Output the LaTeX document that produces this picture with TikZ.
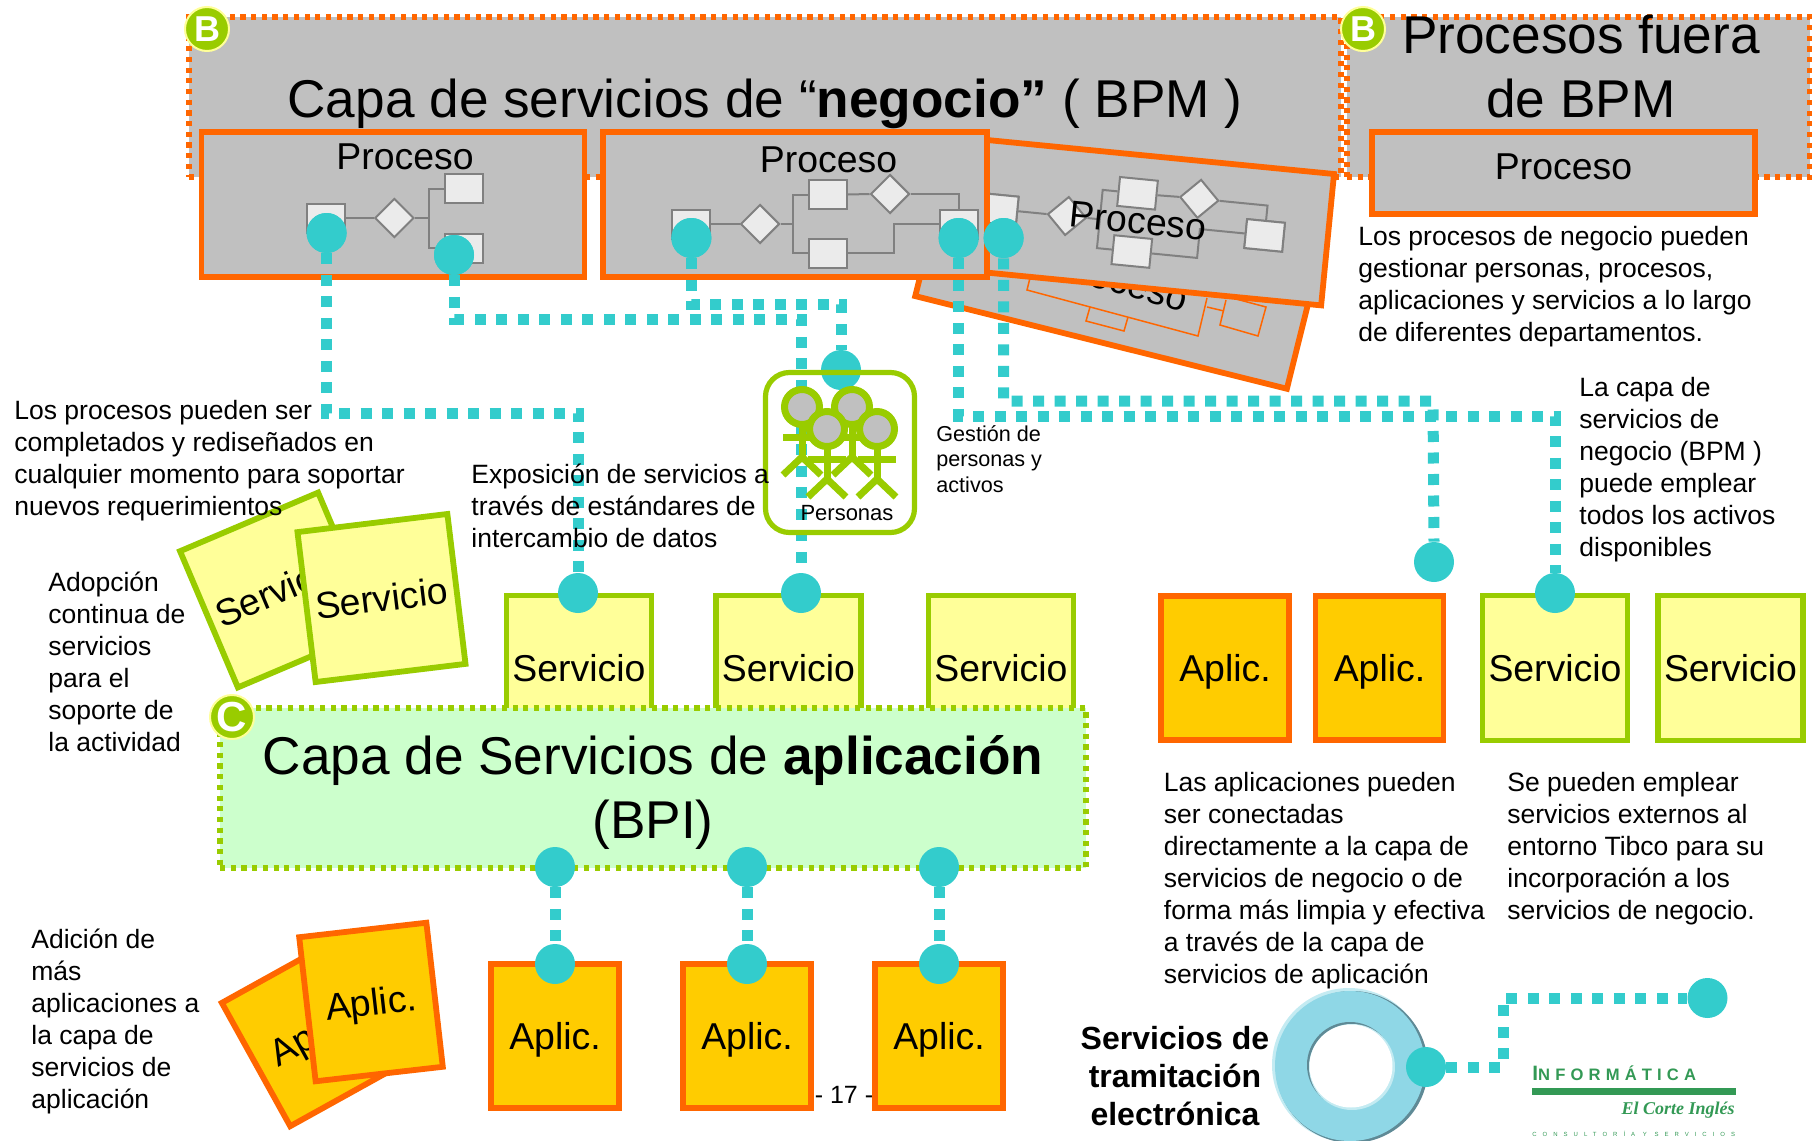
\documentclass[tikz,border=0pt]{standalone}
\usepackage{fontspec}
\setmainfont{Liberation Sans}
\newfontfamily\logofont[LetterSpace=31]{Liberation Sans}
\newfontfamily\logowide[LetterSpace=100]{Liberation Sans}
\newfontfamily\logoscript{Liberation Serif}
\usetikzlibrary{shapes.geometric}
\definecolor{tealport}{HTML}{33CCCC}
\definecolor{orangeline}{HTML}{FF6600}
\definecolor{greenline}{HTML}{99CC00}
\definecolor{panelgrey}{HTML}{C0C0C0}
\definecolor{servfill}{HTML}{FFFF99}
\definecolor{aplicfill}{HTML}{FFCC00}
\definecolor{mintfill}{HTML}{CCFFCC}
\definecolor{logogreen}{HTML}{339955}
\definecolor{ringblue}{HTML}{8FD7E6}
\definecolor{ringpale}{HTML}{C4EBF2}
\definecolor{ringdark}{HTML}{5F8A96}
\tikzset{
  panel/.style    = {rectangle, fill=panelgrey, draw=orangeline, line width=2.6pt,
                     dash pattern=on 2.6pt off 2.75pt, minimum height=80pt},
  bigtext/.style  = {align=center, inner sep=0pt, font=\fontsize{26.6}{32}\selectfont},
  boxtext/.style  = {inner sep=0pt, font=\fontsize{18.7}{22}\selectfont},
  procbox/.style  = {rectangle, draw=orangeline, fill=panelgrey, line width=2.9pt,
                     inner sep=0pt, font=\fontsize{18.7}{22}\selectfont},
  servbox/.style  = {procbox, draw=greenline, fill=servfill,
                     minimum width=72.5pt, minimum height=72.5pt},
  aplicbox/.style = {procbox, fill=aplicfill, text depth=0pt, minimum width=64pt, minimum height=72pt},
  flowbox/.style  = {rectangle, draw=gray, fill=black!8, line width=1pt, inner sep=0pt,
                     minimum width=19pt, minimum height=14.5pt},
  flowgate/.style = {diamond, aspect=1, draw=gray, fill=black!8, line width=1pt,
                     inner sep=0pt, minimum size=19.5pt},
  wire/.style     = {draw=gray, line width=1pt},
  thinwire/.style = {draw=orangeline, line width=.75pt},
  port/.style     = {circle, fill=tealport, inner sep=0pt, minimum size=20pt},
  link/.style     = {draw=tealport, line width=5.5pt, dash pattern=on 5.5pt off 5.25pt},
  badge/.style    = {circle, fill=greenline, draw=servfill, line width=1pt, inner sep=0pt,
                     minimum size=22pt, text=white, font=\fontsize{18}{18}\bfseries\selectfont},
  note/.style     = {align=left, anchor=west, inner sep=0pt,
                     font=\fontsize{13.25}{16}\selectfont},
  smallnote/.style = {note, font=\fontsize{10.8}{12.8}\selectfont},
  figure/.style   = {draw=greenline, line width=3.5pt},
  ring/.style     = {circle, inner sep=0pt},
  flowpic/.pic    = {
    \node [flowbox]  (-start) at (0,0) {};
    \node [flowgate] (-gatea) at (69,0) {};
    \node [flowbox]  (-up)    at (137,-29.5) {};
    \node [flowbox]  (-low)   at (137,29) {};
    \node [flowgate] (-gateb) at (199,-30) {};
    \node [flowbox]  (-end)   at (267.6,0) {};
    \coordinate (-joint) at (102,0);
    \coordinate (-back)  at (202.6,0);
    \draw [wire] (-start) -- (-gatea) -- (-joint);
    \draw [wire] (-up.west) -| (-joint) |- (-low.west);
    \draw [wire] (-up.east) -- (-gateb.west);
    \draw [wire] (-gateb.east) -| (-end.north);
    \draw [wire] (-low.east) -| (-back) -- (-end.west);
    \node [flowbox] at (-start) {};
    \node [flowbox] at (-end) {};
  }
}

\begin{document}
\begin{tikzpicture}[x=.5pt,y=-.5pt]
  \useasboundingbox (0,0) rectangle (1812,1141);

  % grey layer
  \node [panel, minimum width=576pt]   (negocio) at (765,97) {};
  \node [panel, minimum width=231.5pt] (fuera)   at (1578.5,97) {};
  \node [bigtext] (negociotext) at (765,104) {Capa de servicios de “\textbf{negocio”} ( BPM )};
  \node [bigtext] (fueratext)   at (1581,67) {Procesos fuera\\de BPM};

  % tilted process boxes
  \node [procbox, minimum width=191.5pt, minimum height=70pt, rotate=-14] (procback) at (1118,274.5) {};
  \node [boxtext, rotate=-16] (procbacktext) at (1121,281.5) {Proceso};
  \draw [thinwire] (1030,278) -- (1027,290) -- (1198,336) -- (1207,298);
  \draw [thinwire] (1090,307) -- (1086,321) -- (1124,331) -- (1128,317);
  \draw [thinwire] (1226,300) -- (1220,325) -- (1258,336) -- (1266,307) -- (1236,299);
  \draw [thinwire] (1207,307) -- (1224,311);
  \node [procbox, minimum width=191.5pt, minimum height=66pt, rotate=-5.6] (procfront) at (1137,221) {};
  \pic [rotate=-5.6, transform shape] (flowfront) at (998.3,209.3) {flowpic};
  \node [boxtext, rotate=-5.6] (procfronttext) at (1138,221) {Proceso};

  % process boxes
  \node [procbox, minimum width=191.5pt, minimum height=72.25pt] (procone) at (393,204.5) {};
  \node [boxtext] (proconetext) at (405,157) {Proceso};
  \node [flowbox]  (startone) at (326,218) {};
  \node [flowgate] (gateone)  at (394.4,218) {};
  \node [flowbox]  (upone)    at (463.5,188.5) {};
  \node [flowbox]  (lowone)   at (463.5,248) {};
  \coordinate (jointone) at (429,218);
  \draw [wire] (startone) -- (gateone) -- (jointone);
  \draw [wire] (upone.west) -| (jointone) |- (lowone.west);

  \node [procbox, minimum width=192.25pt, minimum height=72.25pt] (proctwo) at (795,204.5) {};
  \node [boxtext] (proctwotext) at (828.5,160) {Proceso};
  \pic (flowtwo) at (691,224) {flowpic};

  \node [procbox, minimum width=191.75pt, minimum height=41.25pt] (procout) at (1563.5,173) {};
  \node [boxtext] (procouttext) at (1563.5,167) {Proceso};

  % services and applications
  \foreach \name/\xpos in {servone/579,servtwo/788.5,servthree/1001,servfour/1555,servfive/1730.5}
    \node [servbox] (\name) at (\xpos,668) {Servicio};
  \foreach \name/\xpos in {aplicone/1225,aplictwo/1379.5}
    \node [aplicbox] (\name) at (\xpos,668) {Aplic.};
  \node [servbox, rotate=23, minimum width=75pt, minimum height=74pt] (servback) at (278,590) {Servicio};
  \node [servbox, rotate=6.9, minimum width=75.5pt, minimum height=75.5pt] (servfront) at (381.5,598) {Servicio};

  % business links
  \node [port] (portone)   at (326.6,233) {};
  \node [port] (porttwo)   at (454,255) {};
  \node [port] (portthree) at (691.4,238) {};
  \node [port] (portfour)  at (958.6,238) {};
  \node [port] (portfive)  at (1003.6,238) {};
  \node [port] (portserva) at (578,593) {};
  \node [port] (portservb) at (801,593) {};
  \node [port] (portservc) at (1555,593) {};
  \node [port] (portaplic) at (1434,562) {};
  \node [port] (portpeople) at (841,370) {};
  \coordinate (bendone)   at (578,413);
  \coordinate (bendtwo)   at (801,319);
  \coordinate (bendthree) at (841,304);
  \coordinate (bendfour)  at (1555,416);
  \coordinate (bendfive)  at (1433,401);
  \draw [link] (portone.south)   |- (bendone)   -- (portserva.north);
  \draw [link] (porttwo.south)   |- (bendtwo)   -- (portservb.north);
  \draw [link] (portthree.south) |- (bendthree) -- (portpeople.north);
  \draw [link] (portfour.south)  |- (bendfour)  -- (portservc.north);
  \draw [link] (portfive.south)  |- (bendfive)  -- (portaplic.north);
  \node [port] at (portone) {};
  \node [port] at (porttwo) {};
  \node [port] at (portthree) {};
  \node [port] at (portfour) {};
  \node [port] at (portfive) {};

  % people
  \node [rectangle, rounded corners=12pt, draw=greenline, line width=2.6pt, inner sep=0pt,
         minimum width=74.5pt, minimum height=80pt] (people) at (840,452.5) {};
  \foreach \px/\py in {802/407,852/407,827/429,877/429} {
    \draw [figure] (\px-19,\py+30) -- (\px+19,\py+30);
    \draw [figure] (\px,\py) -- (\px,\py+50);
    \draw [figure] (\px-19,\py+68) -- (\px,\py+50) -- (\px+19,\py+68);
    \node [circle, draw=greenline, fill=panelgrey, line width=3.5pt, inner sep=0pt,
           minimum size=17.5pt] (head\px) at (\px,\py) {};
  }
  \node [inner sep=0pt, font=\fontsize{11}{13}\selectfont] (peopletext) at (847,513) {Personas};

  % application layer
  \node [panel, fill=mintfill, draw=greenline, minimum width=433pt] (aplicacion) at (653,788) {};
  \node [bigtext] (aplicaciontext) at (653,792.5) {Capa de Servicios de \textbf{aplicación}\\(BPI)};

  \node [inner sep=0pt, font=\fontsize{12.5}{15}\selectfont] (pagenum) at (844,1095) {- 17 -};
  \foreach \name/\xpos in {low/555,mid/747,high/939} {
    \node [aplicbox] (aplic\name) at (\xpos,1036) {Aplic.};
    \node [port] (top\name) at (\xpos,867) {};
    \node [port] (bottom\name) at (\xpos,964) {};
    \draw [link] (top\name.south) -- (bottom\name.north);
  }
  \node [aplicbox, rotate=29, minimum height=70.5pt] (aplicback) at (312,1033.5) {Aplic.};
  \node [aplicbox, rotate=6.5, minimum width=64pt, minimum height=72.5pt] (aplicfront) at (371,1002) {Aplic.};

  % badges
  \node [badge] (badgeone)   at (207,29) {B};
  \node [badge] (badgetwo)   at (1363,29) {B};
  \node [badge, font=\fontsize{21}{21}\bfseries\selectfont] (badgethree) at (232,717) {C};

  % notes
  \node [note] (notedone) at (14,460.5) {Los procesos pueden ser\\completados y rediseñados en\\cualquier momento para soportar\\nuevos requerimientos};
  \node [note] (noteexpo) at (471,506) {Exposición de servicios a\\través de estándares de\\intercambio de datos};
  \node [note] (noteadop) at (48,661.5) {Adopción\\continua de\\servicios\\para el\\soporte de\\la actividad};
  \node [note] (noteadic) at (31,1021) {Adición de\\más\\aplicaciones a\\la capa de\\servicios de\\aplicación};
  \node [note] (notegest) at (1358,286.5) {Los procesos de negocio pueden\\gestionar personas, procesos,\\aplicaciones y servicios a lo largo\\de diferentes departamentos.};
  \node [note] (notecapa) at (1579,469.5) {La capa de\\servicios de\\negocio (BPM )\\puede emplear\\todos los activos\\disponibles};
  \node [note] (noteconn) at (1163.5,880.5) {Las aplicaciones pueden\\ser conectadas\\directamente a la capa de\\servicios de negocio o de\\forma más limpia y efectiva\\a través de la capa de\\servicios de aplicación};
  \node [note] (noteext)  at (1507,848.5) {Se pueden emplear\\servicios externos al\\entorno Tibco para su\\incorporación a los\\servicios de negocio.};
  \node [smallnote] (noteact) at (936,459) {Gestión de\\personas y\\activos};

  % electronic processing
  \node [ring, fill=ringpale, minimum size=77pt]   (ringa) at (1349,1065) {};
  \node [ring, fill=ringdark, minimum size=76pt]   (ringb) at (1352,1067) {};
  \node [ring, fill=ringblue, minimum size=75pt]   (ringc) at (1350,1066) {};
  \node [ring, fill=ringdark, minimum size=43pt]   (holea) at (1350,1065) {};
  \node [ring, fill=ringpale, minimum size=43pt]   (holeb) at (1352,1067) {};
  \node [ring, fill=white, minimum size=41.5pt]    (holec) at (1351,1066) {};
  \node [align=center, inner sep=0pt, font=\fontsize{16}{19}\bfseries\selectfont] (ringtext) at (1175,1076)
    {Servicios de\\tramitación\\electrónica};
  \node [port] (portring) at (1426,1067) {};
  \node [port] (portend)  at (1707.5,998) {};
  \coordinate (bendring) at (1503,1067);
  \draw [link] (portring.east) -- (bendring) |- (portend.west);

  % logo
  \node [anchor=west, inner sep=0pt, text=logogreen, font=\logofont\bfseries\fontsize{8.3}{10}\selectfont] (logotop) at (1532,1073)
    {{\fontsize{10.4}{10}\selectfont I}NFORMÁTICA};
  \node [rectangle, fill=logogreen, inner sep=0pt, minimum width=102pt, minimum height=3.5pt] (logobar) at (1634,1091.5) {};
  \node [anchor=east, inner sep=0pt, text=logogreen, font=\logoscript\itshape\bfseries\fontsize{9}{11}\selectfont] (logoname) at (1735,1110) {El Corte Inglés};
  \node [anchor=west, inner sep=0pt, text=logogreen, font=\logowide\fontsize{3}{4}\selectfont] (logofoot) at (1532,1134) {CONSULTORÍA Y SERVICIOS};
\end{tikzpicture}
\end{document}
